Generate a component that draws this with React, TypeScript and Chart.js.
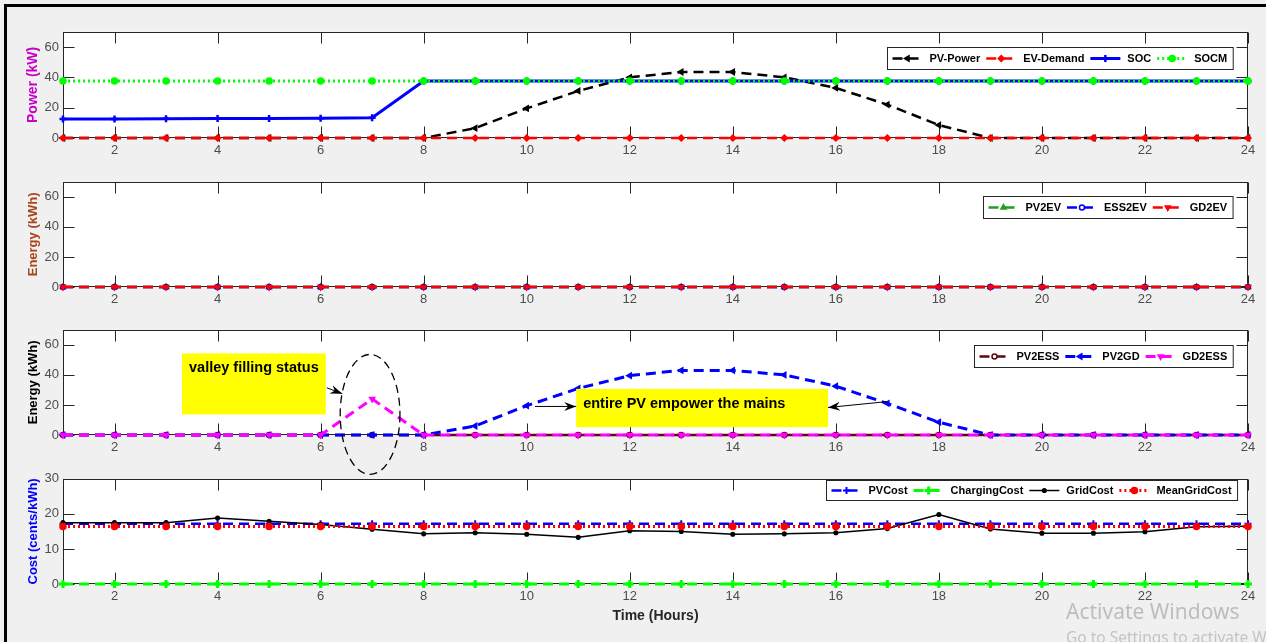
import React, { useEffect, useRef } from "react";
import { Chart, registerables } from "chart.js";
import { drawPoint } from "chart.js/helpers";

Chart.register(...registerables);

// ---- data -------------------------------------------------------------
const HOURS = [1, 2, 3, 4, 5, 6, 7, 8, 9, 10, 11, 12, 13, 14, 15, 16, 17, 18, 19, 20, 21, 22, 23, 24];
const X_TICKS = [2, 4, 6, 8, 10, 12, 14, 16, 18, 20, 22, 24];
const POWER_TICKS = [0, 20, 40, 60];
const ENERGY_TICKS = [0, 20, 40, 60];
const COST_TICKS = [0, 10, 20, 30];

const PV_POWER = [0, 0, 0, 0, 0, 0, 0, 0, 6.5, 19.5, 31, 40, 43.5, 43.5, 40, 33, 22, 8.5, 0, 0, 0, 0, 0, 0];
const EV_DEMAND = [0, 0, 0, 0, 0, 0, 0, 0, 0, 0, 0, 0, 0, 0, 0, 0, 0, 0, 0, 0, 0, 0, 0, 0];
const SOC = [12.5, 12.6, 12.7, 12.8, 12.9, 13.1, 13.4, 37.5, 37.5, 37.5, 37.5, 37.5, 37.5, 37.5, 37.5, 37.5, 37.5, 37.5, 37.5, 37.5, 37.5, 37.5, 37.5, 37.5];
const SOCM = [37.5, 37.5, 37.5, 37.5, 37.5, 37.5, 37.5, 37.5, 37.5, 37.5, 37.5, 37.5, 37.5, 37.5, 37.5, 37.5, 37.5, 37.5, 37.5, 37.5, 37.5, 37.5, 37.5, 37.5];

const PV2EV = [0, 0, 0, 0, 0, 0, 0, 0, 0, 0, 0, 0, 0, 0, 0, 0, 0, 0, 0, 0, 0, 0, 0, 0];
const ESS2EV = [0, 0, 0, 0, 0, 0, 0, 0, 0, 0, 0, 0, 0, 0, 0, 0, 0, 0, 0, 0, 0, 0, 0, 0];
const GD2EV = [0, 0, 0, 0, 0, 0, 0, 0, 0, 0, 0, 0, 0, 0, 0, 0, 0, 0, 0, 0, 0, 0, 0, 0];

const PV2ESS = [0, 0, 0, 0, 0, 0, 0, 0, 0, 0, 0, 0, 0, 0, 0, 0, 0, 0, 0, 0, 0, 0, 0, 0];
const PV2GD = [0, 0, 0, 0, 0, 0, 0, 0, 6, 19.5, 31, 39.5, 43, 43, 40, 32.5, 21, 8.5, 0, 0, 0, 0, 0, 0];
const GD2ESS = [0, 0, 0, 0, 0, 0, 24, 0, 0, 0, 0, 0, 0, 0, 0, 0, 0, 0, 0, 0, 0, 0, 0, 0];

const PV_COST = [17.2, 17.2, 17.2, 17.2, 17.2, 17.2, 17.2, 17.2, 17.2, 17.2, 17.2, 17.2, 17.2, 17.2, 17.2, 17.2, 17.2, 17.2, 17.2, 17.2, 17.2, 17.2, 17.2, 17.2];
const CHARGING_COST = [0, 0, 0, 0, 0, 0, 0, 0, 0, 0, 0, 0, 0, 0, 0, 0, 0, 0, 0, 0, 0, 0, 0, 0];
const GRID_COST = [17.5, 17.5, 17.5, 18.8, 17.9, 17.0, 15.6, 14.3, 14.6, 14.2, 13.3, 15.2, 15.0, 14.2, 14.3, 14.6, 15.8, 19.8, 15.7, 14.5, 14.5, 14.9, 16.3, 16.5];
const MEAN_GRID_COST = [16.4, 16.4, 16.4, 16.4, 16.4, 16.4, 16.4, 16.4, 16.4, 16.4, 16.4, 16.4, 16.4, 16.4, 16.4, 16.4, 16.4, 16.4, 16.4, 16.4, 16.4, 16.4, 16.4, 16.4];

// callouts on the energy-flow panel, in data units (hours, kWh)
const VALLEY_BOX = { x0: 3.31, x1: 6.1, y0: 54.3, y1: 13.7, text: "valley filling status" };
const VALLEY_RING = { cx: 6.96, cy: 13.7, rx: 0.58, ry: 39.9 };
const VALLEY_ARROW = { x0: 6.12, y0: 31.4, x1: 6.42, y1: 27.5 };
const MAINS_BOX = { x0: 10.96, x1: 15.85, y0: 30.7, y1: 5.2, text: "entire PV empower the mains" };
const MAINS_ARROWS = [
  { x0: 10.16, y0: 19.0, x1: 10.96, y1: 19.0 },
  { x0: 16.99, y0: 22.2, x1: 15.85, y1: 18.3 },
];

// ---- styling ----------------------------------------------------------
const FONT = '"Liberation Sans", Arial, Helvetica, sans-serif';
const AXIS_INK = "#262626";
const TICK_INK = "#4d4d4d";
const DASH = [10, 6];
const DOT = [2, 3];

type SeriesStyle = {
  color: string;
  width?: number;
  dash?: number[];
  marker: string;
  radius?: number;
  rotation?: number;
  fill?: string;
  markerWidth?: number;
};

function series(label: string, values: number[], s: SeriesStyle) {
  return {
    label,
    data: HOURS.map((h, i) => ({ x: h, y: values[i] })),
    borderColor: s.color,
    backgroundColor: s.fill ?? s.color,
    borderWidth: s.width ?? 2.5,
    borderDash: s.dash ?? [],
    pointStyle: s.marker,
    pointRadius: s.radius ?? 3,
    pointRotation: s.rotation ?? 0,
    pointBorderColor: s.color,
    pointBackgroundColor: s.fill ?? s.color,
    pointBorderWidth: s.markerWidth ?? 1.5,
    tension: 0,
    fill: false,
    clip: false,
  };
}

// white plot area, MATLAB-like box with inward ticks on all four sides
const boxAxes = {
  id: "boxAxes",
  beforeDraw(chart: any) {
    const { ctx, chartArea: a } = chart;
    ctx.save();
    ctx.fillStyle = "#ffffff";
    ctx.fillRect(a.left, a.top, a.right - a.left, a.bottom - a.top);
    ctx.restore();
  },
  beforeDatasetsDraw(chart: any) {
    const { ctx, chartArea: a, scales } = chart;
    const L = Math.round(a.left) + 0.5;
    const R = Math.round(a.right) - 0.5;
    const T = Math.round(a.top) + 0.5;
    const B = Math.round(a.bottom) - 0.5;
    const len = 11;
    ctx.save();
    ctx.strokeStyle = AXIS_INK;
    ctx.lineWidth = 1;
    ctx.beginPath();
    for (const t of scales.x.ticks) {
      const px = Math.round(scales.x.getPixelForValue(t.value)) + 0.5;
      ctx.moveTo(px, B);
      ctx.lineTo(px, B - len);
      ctx.moveTo(px, T);
      ctx.lineTo(px, T + len);
    }
    for (const t of scales.y.ticks) {
      const py = Math.round(scales.y.getPixelForValue(t.value)) + 0.5;
      ctx.moveTo(L, py);
      ctx.lineTo(L + len, py);
      ctx.moveTo(R, py);
      ctx.lineTo(R - len, py);
    }
    ctx.stroke();
    ctx.strokeRect(L, T, R - L, B - T);
    ctx.restore();
  },
};

// boxed legend inside the plot's upper-right corner
const boxLegend = {
  id: "boxLegend",
  afterDatasetsDraw(chart: any, _args: any, opts: any) {
    const { ctx, chartArea: a } = chart;
    const sets = chart.data.datasets;
    ctx.save();
    ctx.font = `bold 11px ${FONT}`;
    const pad = 5;
    const sample = 30;
    const gap = 7;
    const sep = 6;
    const widths = sets.map((d: any) => ctx.measureText(d.label).width);
    let w = pad + 6 + sep * (sets.length - 1);
    widths.forEach((tw: number) => (w += sample + gap + tw));
    const x0 = Math.round(a.right - opts.right - w) + 0.5;
    const y0 = Math.round(a.top + opts.top) + 0.5;
    const h = opts.height;
    ctx.fillStyle = "#ffffff";
    ctx.fillRect(x0, y0, w, h);
    ctx.strokeStyle = AXIS_INK;
    ctx.lineWidth = 1;
    ctx.strokeRect(x0, y0, w, h);
    const cy = y0 + h / 2;
    let x = x0 + pad;
    sets.forEach((d: any, i: number) => {
      ctx.save();
      ctx.strokeStyle = d.borderColor;
      ctx.lineWidth = d.borderWidth;
      ctx.setLineDash(d.borderDash || []);
      ctx.beginPath();
      ctx.moveTo(x, cy);
      ctx.lineTo(x + sample, cy);
      ctx.stroke();
      ctx.setLineDash([]);
      ctx.strokeStyle = d.pointBorderColor;
      ctx.fillStyle = d.pointBackgroundColor;
      ctx.lineWidth = d.pointBorderWidth;
      drawPoint(
        ctx,
        { pointStyle: d.pointStyle, radius: d.pointRadius, rotation: d.pointRotation, borderWidth: d.pointBorderWidth },
        x + sample / 2,
        cy
      );
      ctx.restore();
      ctx.fillStyle = "#000000";
      ctx.textBaseline = "middle";
      ctx.textAlign = "left";
      ctx.fillText(d.label, x + sample + gap, cy + 0.5);
      x += sample + gap + widths[i] + sep;
    });
    ctx.restore();
  },
};

function drawArrow(ctx: CanvasRenderingContext2D, x0: number, y0: number, x1: number, y1: number) {
  ctx.beginPath();
  ctx.moveTo(x0, y0);
  ctx.lineTo(x1, y1);
  ctx.stroke();
  const ang = Math.atan2(y1 - y0, x1 - x0);
  const c = Math.cos(ang);
  const s = Math.sin(ang);
  const L = 12;
  const W = 4.5;
  const N = 8;
  ctx.beginPath();
  ctx.moveTo(x1, y1);
  ctx.lineTo(x1 - L * c - W * s, y1 - L * s + W * c);
  ctx.lineTo(x1 - N * c, y1 - N * s);
  ctx.lineTo(x1 - L * c + W * s, y1 - L * s - W * c);
  ctx.closePath();
  ctx.fill();
}

// yellow callouts, arrows and the dashed ring around the valley-filling peak
const callouts = {
  id: "callouts",
  afterDatasetsDraw(chart: any) {
    const { ctx, scales } = chart;
    const X = (v: number) => scales.x.getPixelForValue(v);
    const Y = (v: number) => scales.y.getPixelForValue(v);
    ctx.save();

    // dashed ring
    ctx.strokeStyle = "#000000";
    ctx.lineWidth = 1.3;
    ctx.setLineDash([8, 5]);
    ctx.beginPath();
    ctx.ellipse(
      X(VALLEY_RING.cx),
      Y(VALLEY_RING.cy),
      Math.abs(X(VALLEY_RING.cx + VALLEY_RING.rx) - X(VALLEY_RING.cx)),
      Math.abs(Y(VALLEY_RING.cy + VALLEY_RING.ry) - Y(VALLEY_RING.cy)),
      0,
      0,
      Math.PI * 2
    );
    ctx.stroke();
    ctx.setLineDash([]);

    // yellow text boxes
    ctx.font = `bold 14.5px ${FONT}`;
    ctx.textBaseline = "middle";
    ctx.textAlign = "left";
    for (const b of [VALLEY_BOX, MAINS_BOX]) {
      const l = X(b.x0);
      const r = X(b.x1);
      const t = Y(b.y0);
      const bt = Y(b.y1);
      ctx.fillStyle = "#ffff00";
      ctx.fillRect(l, t, r - l, bt - t);
      ctx.fillStyle = "#000000";
      ctx.fillText(b.text, l + 7, t + 15);
    }

    // arrows
    ctx.strokeStyle = "#000000";
    ctx.fillStyle = "#000000";
    ctx.lineWidth = 1;
    for (const ar of [VALLEY_ARROW, ...MAINS_ARROWS]) {
      drawArrow(ctx, X(ar.x0), Y(ar.y0), X(ar.x1), Y(ar.y1));
    }
    ctx.restore();
  },
};

type PanelSpec = {
  top: number;
  height: number;
  xh: number;
  yMax: number;
  yTicks: number[];
  yTitle: string;
  yTitleColor: string;
  yTitleSize: number;
  xTitle?: string;
  legend: { top: number; right: number; height: number };
  datasets: any[];
  extra?: any[];
};

const PANELS: PanelSpec[] = [
  {
    top: 20,
    height: 158,
    xh: 40,
    yMax: 70,
    yTicks: POWER_TICKS,
    yTitle: "Power (kW)",
    yTitleColor: "#c800c8",
    yTitleSize: 14,
    legend: { top: 15, right: 15, height: 22 },
    datasets: [
      series("PV-Power", PV_POWER, { color: "#000000", dash: DASH, marker: "triangle", rotation: -90, radius: 3 }),
      series("EV-Demand", EV_DEMAND, { color: "#ff0000", dash: DASH, marker: "rectRot", radius: 3 }),
      series("SOC", SOC, { color: "#0000ff", width: 3, marker: "cross", radius: 3.5, markerWidth: 2.5 }),
      series("SOCM", SOCM, { color: "#00ff00", width: 3, dash: DOT, marker: "circle", radius: 3 }),
    ],
  },
  {
    top: 170,
    height: 157,
    xh: 40,
    yMax: 70,
    yTicks: ENERGY_TICKS,
    yTitle: "Energy (kWh)",
    yTitleColor: "#a8461c",
    yTitleSize: 13,
    legend: { top: 14, right: 15, height: 22 },
    datasets: [
      series("PV2EV", PV2EV, { color: "#1f9f1f", dash: DASH, marker: "triangle", radius: 3 }),
      series("ESS2EV", ESS2EV, { color: "#0000ff", dash: DASH, marker: "circle", radius: 2.5, fill: "#ffffff" }),
      series("GD2EV", GD2EV, { color: "#ff0000", dash: DASH, marker: "triangle", rotation: 180, radius: 3 }),
    ],
  },
  {
    top: 318,
    height: 159,
    xh: 42,
    yMax: 70,
    yTicks: ENERGY_TICKS,
    yTitle: "Energy (kWh)",
    yTitleColor: "#000000",
    yTitleSize: 13,
    legend: { top: 15, right: 15, height: 22 },
    extra: [callouts],
    datasets: [
      series("PV2ESS", PV2ESS, { color: "#5a0a0a", dash: DASH, marker: "circle", radius: 2.5, fill: "#ffffff" }),
      series("PV2GD", PV2GD, { color: "#0000ff", width: 3, dash: DASH, marker: "triangle", rotation: -90, radius: 3 }),
      series("GD2ESS", GD2ESS, { color: "#ff00ff", width: 3, dash: DASH, marker: "triangle", rotation: 180, radius: 3 }),
    ],
  },
  {
    top: 467,
    height: 167,
    xh: 50,
    yMax: 30,
    yTicks: COST_TICKS,
    yTitle: "Cost (cents/kWh)",
    yTitleColor: "#0000ff",
    yTitleSize: 13,
    xTitle: "Time (Hours)",
    legend: { top: 1, right: 11, height: 20 },
    datasets: [
      series("PVCost", PV_COST, { color: "#0000ff", dash: DASH, marker: "cross", radius: 3.5, markerWidth: 2 }),
      series("ChargingCost", CHARGING_COST, { color: "#00ff00", width: 3, dash: DASH, marker: "cross", radius: 4, markerWidth: 3 }),
      series("GridCost", GRID_COST, { color: "#000000", width: 1.5, marker: "circle", radius: 1.8 }),
      series("MeanGridCost", MEAN_GRID_COST, { color: "#ff0000", width: 3, dash: DOT, marker: "circle", radius: 3 }),
    ],
  },
];

function Panel({ spec }: { spec: PanelSpec }) {
  const ref = useRef<HTMLCanvasElement>(null);
  useEffect(() => {
    const n = spec.datasets.length;
    const datasets = spec.datasets.map((d, i) => ({ ...d, order: n - i }));
    const titleLine = spec.yTitleSize * 1.2;
    const chart = new Chart(ref.current as HTMLCanvasElement, {
      type: "line",
      data: { datasets },
      options: {
        animation: false,
        responsive: false,
        maintainAspectRatio: false,
        events: [],
        layout: { padding: { top: 10, right: 18, left: 0, bottom: 0 } },
        plugins: {
          legend: { display: false },
          tooltip: { enabled: false },
          boxLegend: spec.legend,
        } as any,
        scales: {
          x: {
            type: "linear",
            min: 1,
            max: 24,
            grid: { display: false, drawTicks: false },
            border: { display: false },
            afterBuildTicks: (s: any) => {
              s.ticks = X_TICKS.map((v) => ({ value: v }));
            },
            afterFit: (s: any) => {
              s.height = spec.xh;
            },
            ticks: {
              color: TICK_INK,
              font: { family: FONT, size: 13 },
              padding: 5,
              maxRotation: 0,
              autoSkip: false,
              callback: (v: any) => String(v),
            },
            title: spec.xTitle
              ? {
                  display: true,
                  text: spec.xTitle,
                  color: AXIS_INK,
                  font: { family: FONT, size: 14, weight: "bold" },
                  padding: { top: 0, bottom: 9 },
                }
              : { display: false },
          },
          y: {
            type: "linear",
            min: 0,
            max: spec.yMax,
            grid: { display: false, drawTicks: false },
            border: { display: false },
            afterBuildTicks: (s: any) => {
              s.ticks = spec.yTicks.map((v) => ({ value: v }));
            },
            afterFit: (s: any) => {
              s.width = 63;
            },
            ticks: {
              color: TICK_INK,
              font: { family: FONT, size: 13 },
              padding: 4,
              callback: (v: any) => String(v),
            },
            title: {
              display: true,
              text: spec.yTitle,
              color: spec.yTitleColor,
              font: { family: FONT, size: spec.yTitleSize, weight: "bold" },
              padding: { top: 33.5 - titleLine / 2, bottom: 0 },
            },
          },
        },
      } as any,
      plugins: [boxAxes, boxLegend, ...(spec.extra || [])],
    });
    return () => chart.destroy();
  }, [spec]);
  return (
    <canvas
      ref={ref}
      width={1266}
      height={spec.height}
      style={{ position: "absolute", left: 0, top: spec.top, width: 1266, height: spec.height }}
    />
  );
}

export default function App() {
  return (
    <div
      style={{
        position: "absolute",
        left: 0,
        top: 0,
        width: 1266,
        height: 642,
        overflow: "hidden",
        background: "#f0f0f0",
      }}
    >
      <div style={{ position: "absolute", left: 4, top: 4, width: 1262, height: 3, background: "#000" }} />
      <div style={{ position: "absolute", left: 4, top: 4, width: 3, height: 638, background: "#000" }} />
      {PANELS.map((p, i) => (
        <Panel key={i} spec={p} />
      ))}
      <div
        style={{
          position: "absolute",
          left: 1066,
          top: 598,
          fontFamily: '"Noto Sans", "Open Sans", sans-serif',
          fontSize: 21,
          color: "#bdbdbd",
          whiteSpace: "nowrap",
          lineHeight: "26px",
        }}
      >
        Activate Windows
      </div>
      <div
        style={{
          position: "absolute",
          left: 1066,
          top: 627,
          fontFamily: '"Noto Sans", "Open Sans", sans-serif',
          fontSize: 15.5,
          color: "#c4c4c4",
          whiteSpace: "nowrap",
          lineHeight: "20px",
        }}
      >
        Go to Settings to activate Windows.
      </div>
    </div>
  );
}
